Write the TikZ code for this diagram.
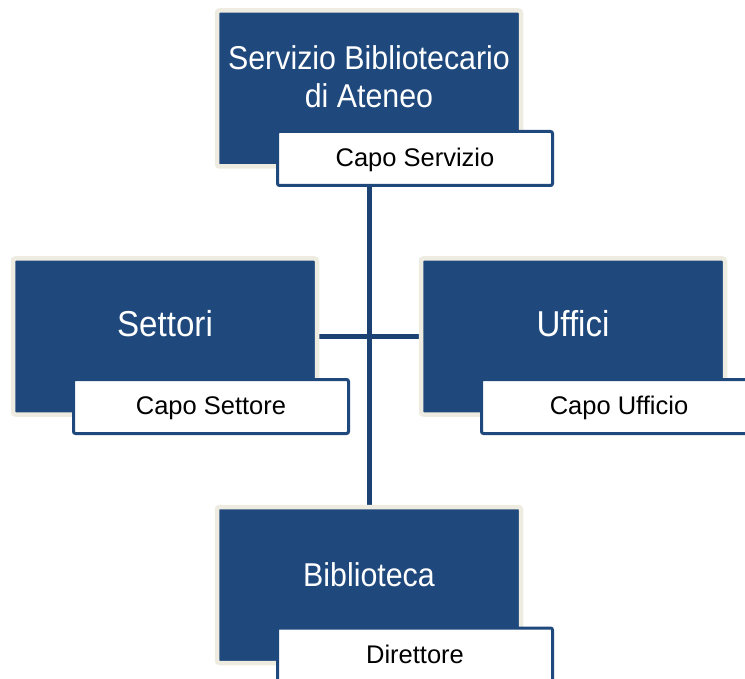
\documentclass[tikz,border=0pt]{standalone}
\usepackage{fontspec}
\setmainfont{Liberation Sans}
\newfontfamily\narrowfont[FakeStretch=0.92]{Liberation Sans}
\usetikzlibrary{backgrounds}
\definecolor{sbblue}{HTML}{1F497D}
\definecolor{sblink}{HTML}{1C4274}
\definecolor{sbcream}{HTML}{EEECE1}
\tikzset{
  bigbox/.style={draw=sbcream, fill=sbblue, line width=4.5pt, rounded corners=2.5pt,
    minimum width=304pt, minimum height=156pt, inner sep=0pt},
  subbox/.style={draw=sbblue, fill=white, line width=3pt, rounded corners=2pt,
    minimum width=275pt, minimum height=54pt, inner sep=0pt},
  bigtext/.style={text=white, anchor=base, inner sep=0pt},
  subtext/.style={text=black, anchor=base, inner sep=0pt, font=\fontsize{25.5}{28}\selectfont},
  link/.style={draw=sblink, line width=5pt}
}
\begin{document}
\begin{tikzpicture}[x=1pt,y=-1pt]
\useasboundingbox (0,0) rectangle (745,679);
% main boxes
\node[bigbox] (top) at (369,88.5) {};
\node[bigbox] (settori) at (165,336.5) {};
\node[bigbox] (uffici) at (573,336.5) {};
\node[bigbox] (bib) at (369,585) {};
% labels in main boxes
\node[bigtext, font=\narrowfont\fontsize{33}{38}\selectfont] (t1) at (369,70) {Servizio Bibliotecario};
\node[bigtext, font=\narrowfont\fontsize{33}{38}\selectfont] (t2) at (369,108) {di Ateneo};
\node[bigtext, font=\narrowfont\fontsize{36}{40}\selectfont] (t3) at (165,337) {Settori};
\node[bigtext, font=\narrowfont\fontsize{36}{40}\selectfont] (t4) at (573,337) {Uffici};
\node[bigtext, font=\narrowfont\fontsize{33}{38}\selectfont] (t5) at (369,586) {Biblioteca};
% sub boxes
\node[subbox] (cs) at (415,158.5) {};
\node[subbox] (cse) at (211,406.5) {};
\node[subbox] (cu) at (619,406.5) {};
\node[subbox] (dir) at (415,655) {};
\node[subtext] at (415,166.5) {Capo Servizio};
\node[subtext] at (211,414.5) {Capo Settore};
\node[subtext] at (619,414.5) {Capo Ufficio};
\node[subtext] at (415,663) {Direttore};
% connectors
\begin{scope}[on background layer]
\draw[link] (cs.south -| top.center) -- (bib.north);
\draw[link] (settori.east) -- (uffici.west);
\end{scope}
\end{tikzpicture}
\end{document}
